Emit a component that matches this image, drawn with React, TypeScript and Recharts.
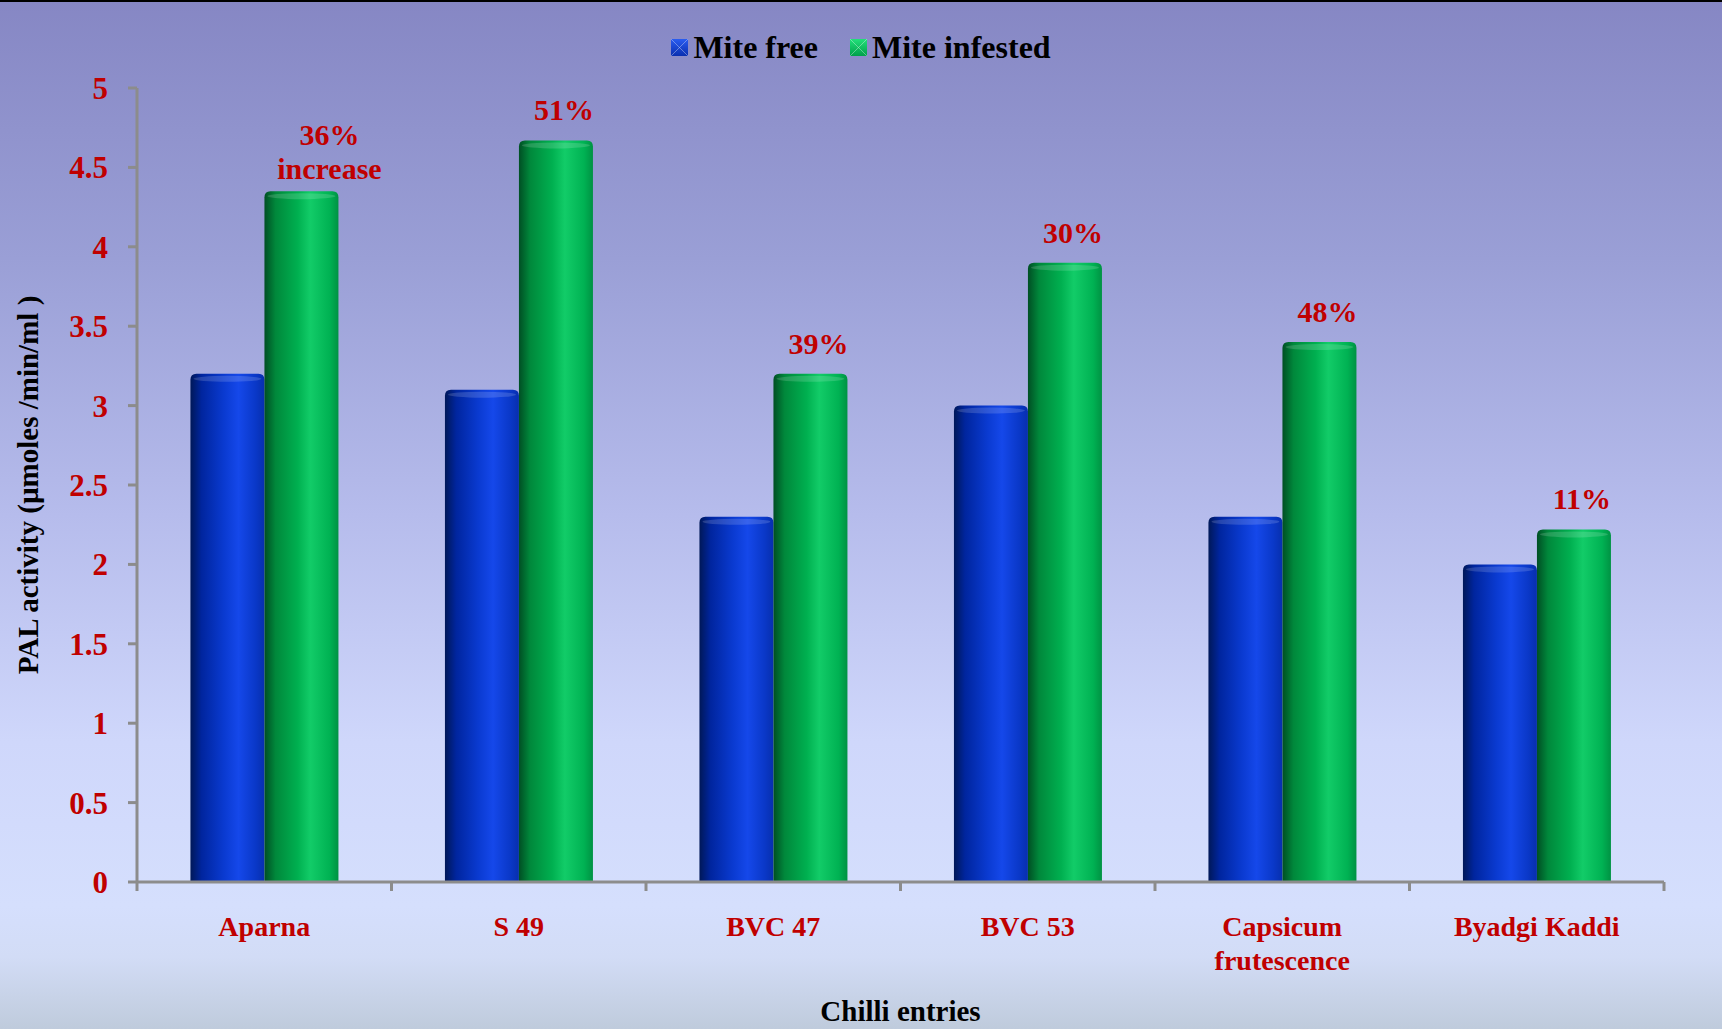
import { BarChart, Bar, XAxis, YAxis, LabelList } from 'recharts';

const categories = ['Aparna', 'S 49', 'BVC 47', 'BVC 53', 'Capsicum frutescence', 'Byadgi Kaddi'];
const miteFree = [3.2, 3.1, 2.3, 3.0, 2.3, 2.0];
const miteInfested = [4.35, 4.67, 3.2, 3.9, 3.4, 2.22];
const increaseLabels = ['36%\nincrease', '51%', '39%', '30%', '48%', '11%'];
const yTicks = [0, 0.5, 1, 1.5, 2, 2.5, 3, 3.5, 4, 4.5, 5];

const data = categories.map((name, i) => ({
  name,
  free: miteFree[i],
  infested: miteInfested[i],
  pct: increaseLabels[i],
}));

const W = 1722;
const H = 1029;
const M = { top: 88, right: 58, left: 0, bottom: 0 };
const Y_W = 137;
const X_H = 147;
const BAND = (W - Y_W - M.right) / categories.length;

const FONT = '"Liberation Serif", "Times New Roman", serif';
const RED = '#c00000';
const AXIS = '#8c8c8c';

const Cylinder = (props: any) => {
  const { x, y, width, height, gid } = props;
  if (!height || height <= 0) return null;
  const r = 6;
  const d = `M${x},${y + r} Q${x},${y} ${x + r},${y} L${x + width - r},${y} Q${x + width},${y} ${x + width},${y + r} L${x + width},${y + height} L${x},${y + height} Z`;
  return (
    <g>
      <path d={d} fill={`url(#${gid})`} />
      <ellipse cx={x + width / 2} cy={y + 5} rx={width / 2 - 3} ry={3} fill="#ffffff" opacity={0.15} />
    </g>
  );
};

const PctLabel = (props: any) => {
  const { x, y, width, value } = props;
  const lines = String(value).split('\n');
  const multi = lines.length > 1;
  const cx = x + width / 2 + (multi ? 28 : 8);
  const base = multi ? y - 12 : y - 20;
  return (
    <text textAnchor="middle" fill={RED} fontFamily={FONT} fontWeight="bold" fontSize={30}>
      {lines.map((l, i) => (
        <tspan key={i} x={cx} y={base - (lines.length - 1 - i) * 34}>
          {l}
        </tspan>
      ))}
    </text>
  );
};

const CategoryTick = (props: any) => {
  const { x, y, payload, index } = props;
  const value: string = payload.value;
  const lines = value.length > 14 ? value.split(' ') : [value];
  const left = x - BAND / 2;
  const right = x + BAND / 2;
  return (
    <g>
      <line x1={left} y1={y} x2={left} y2={y + 9} stroke={AXIS} strokeWidth={3} />
      {index === categories.length - 1 && (
        <line x1={right} y1={y} x2={right} y2={y + 9} stroke={AXIS} strokeWidth={3} />
      )}
      <text textAnchor="middle" fill={RED} fontFamily={FONT} fontWeight="bold" fontSize={28}>
        {lines.map((l, i) => (
          <tspan key={i} x={x} y={y + 54 + i * 34}>
            {l}
          </tspan>
        ))}
      </text>
    </g>
  );
};

const LegendBox = ({ gid }: { gid: string }) => (
  <svg width={17} height={17} style={{ marginRight: 5 }}>
    <rect x={0} y={0} width={17} height={17} fill={`url(#${gid})`} />
    <path d="M0,0 L8.5,8.5 L17,0 M0,17 L8.5,8.5 L17,17" stroke="#ffffff" strokeOpacity={0.35} strokeWidth={1} fill="none" />
    <defs>
      <linearGradient id={gid} x1="0" y1="0" x2="0" y2="1">
        <stop offset="0%" stopColor={gid === 'lgBlue' ? '#2a5cf0' : '#22e07a'} />
        <stop offset="100%" stopColor={gid === 'lgBlue' ? '#0a2fb0' : '#00a04a'} />
      </linearGradient>
    </defs>
  </svg>
);

export default function App() {
  return (
    <div
      style={{
        position: 'fixed',
        left: 0,
        top: 0,
        width: W,
        height: H,
        boxSizing: 'border-box',
        borderTop: '2px solid #000',
        background:
          'linear-gradient(to bottom, #8687c4 0%, #9a9fd6 25%, #b6bcec 50%, #cfd7fb 72%, #d5dffd 88%, #d2dcf6 93%, #bfcbdc 100%)',
        fontFamily: FONT,
      }}
    >
      <div
        style={{
          position: 'absolute',
          top: 27,
          left: 0,
          width: '100%',
          display: 'flex',
          justifyContent: 'center',
          alignItems: 'center',
          fontWeight: 'bold',
          fontSize: 32,
          color: '#000',
          paddingLeft: 0,
          boxSizing: 'border-box',
        }}
      >
        <span style={{ display: 'flex', alignItems: 'center', marginRight: 32 }}>
          <LegendBox gid="lgBlue" />
          Mite free
        </span>
        <span style={{ display: 'flex', alignItems: 'center' }}>
          <LegendBox gid="lgGreen" />
          Mite infested
        </span>
      </div>
      <div style={{ position: 'absolute', left: 0, top: -2 }}>
        <BarChart width={W} height={H} data={data} margin={M} barGap={0} barCategoryGap="21%">
          <defs>
            <linearGradient id="cylBlue" x1="0" y1="0" x2="1" y2="0">
              <stop offset="0%" stopColor="#001858" />
              <stop offset="15%" stopColor="#00259e" />
              <stop offset="45%" stopColor="#0a3ad0" />
              <stop offset="65%" stopColor="#1548ea" />
              <stop offset="88%" stopColor="#0a38c8" />
              <stop offset="100%" stopColor="#072fae" />
            </linearGradient>
            <linearGradient id="cylGreen" x1="0" y1="0" x2="1" y2="0">
              <stop offset="0%" stopColor="#004f24" />
              <stop offset="15%" stopColor="#00883b" />
              <stop offset="45%" stopColor="#00b050" />
              <stop offset="62%" stopColor="#12cc68" />
              <stop offset="88%" stopColor="#00b253" />
              <stop offset="100%" stopColor="#009243" />
            </linearGradient>
          </defs>
          <XAxis
            dataKey="name"
            height={X_H}
            interval={0}
            tickSize={0}
            tickMargin={0}
            tickLine={false}
            axisLine={{ stroke: AXIS, strokeWidth: 3 }}
            tick={<CategoryTick />}
            label={({ viewBox }: any) => (
              <text
                x={viewBox.x + viewBox.width / 2}
                y={viewBox.y + 139}
                textAnchor="middle"
                fill="#000"
                fontFamily={FONT}
                fontWeight="bold"
                fontSize={29}
              >
                Chilli entries
              </text>
            )}
          />
          <YAxis
            width={Y_W}
            domain={[0, 5]}
            ticks={yTicks}
            interval={0}
            tickSize={9}
            tickMargin={20}
            axisLine={{ stroke: AXIS, strokeWidth: 3 }}
            tickLine={{ stroke: AXIS, strokeWidth: 3 }}
            tick={{ fill: RED, fontFamily: FONT, fontWeight: 'bold', fontSize: 31 }}
            label={({ viewBox }: any) => {
              const cx = 28;
              const cy = viewBox.y + viewBox.height / 2;
              return (
                <text
                  x={cx}
                  y={cy}
                  transform={`rotate(-90, ${cx}, ${cy})`}
                  textAnchor="middle"
                  dominantBaseline="central"
                  fill="#000"
                  fontFamily={FONT}
                  fontWeight="bold"
                  fontSize={29}
                >
                  PAL activity (µmoles /min/ml )
                </text>
              );
            }}
          />
          <Bar dataKey="free" name="Mite free" isAnimationActive={false} shape={<Cylinder gid="cylBlue" />} />
          <Bar dataKey="infested" name="Mite infested" isAnimationActive={false} shape={<Cylinder gid="cylGreen" />}>
            <LabelList dataKey="pct" content={<PctLabel />} />
          </Bar>
        </BarChart>
      </div>
    </div>
  );
}
